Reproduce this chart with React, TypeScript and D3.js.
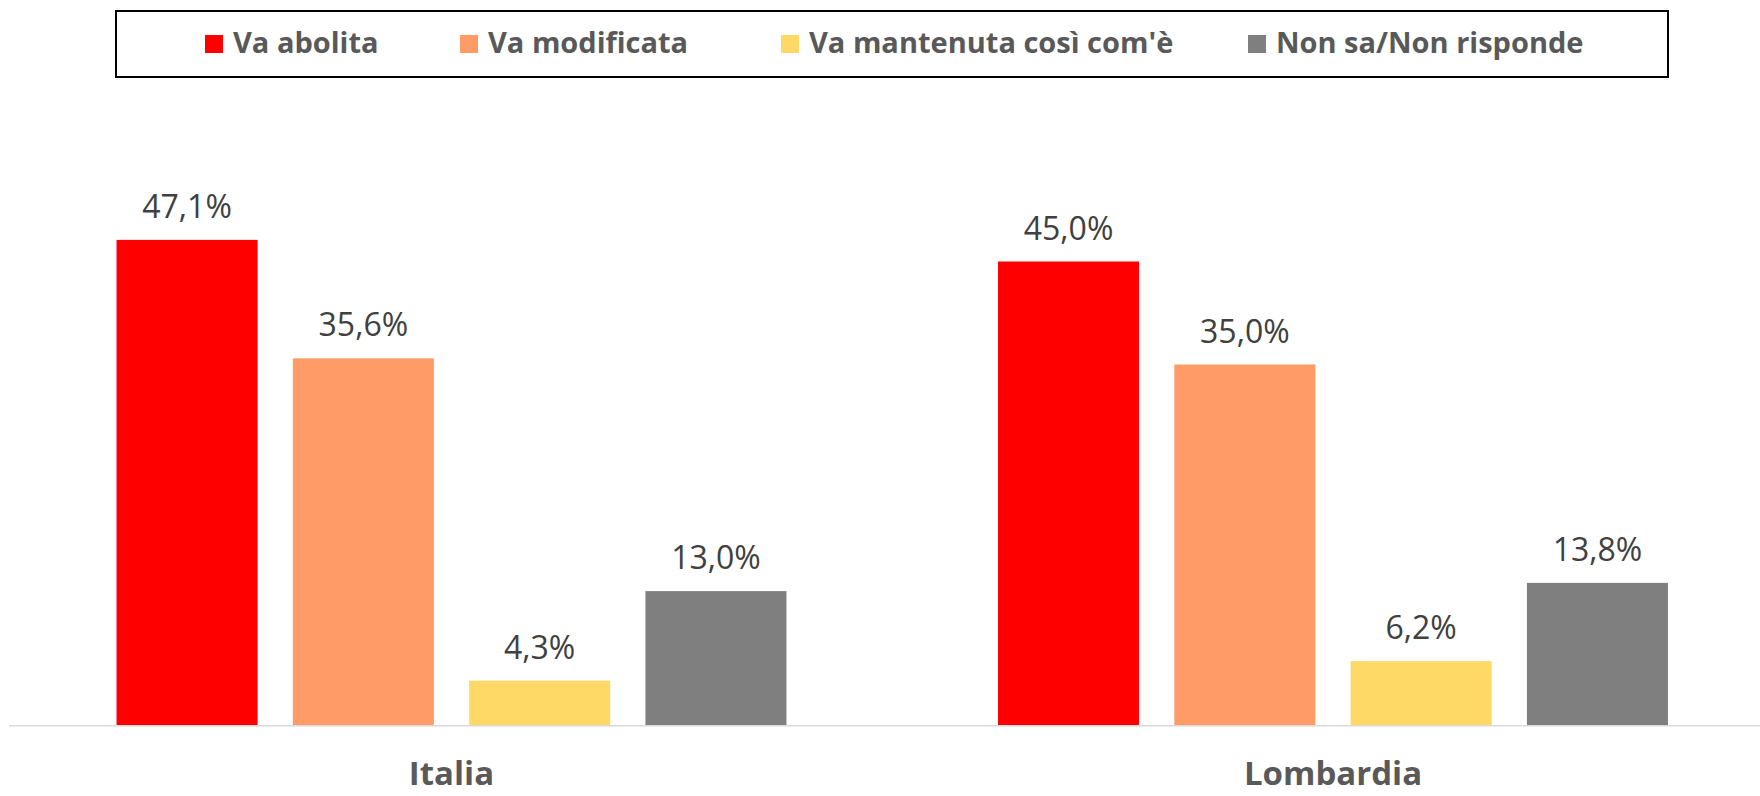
import React from 'react';
import * as d3 from 'd3';

const categories = ['Italia', 'Lombardia'];
const series = ['Va abolita', 'Va modificata', "Va mantenuta così com'è", 'Non sa/Non risponde'];
const colors = ['#FF0000', '#FF9B66', '#FFD966', '#7F7F7F'];
const valuesItalia = [47.1, 35.6, 4.3, 13.0];
const valuesLombardia = [45.0, 35.0, 6.2, 13.8];
const values = [valuesItalia, valuesLombardia];

// legend item x positions (square left edge)
const legendX = [205, 460, 781, 1248];

const W = 1760;
const H = 796;
const baseY = 725;

const fmt = (v: number) => v.toFixed(1).replace('.', ',') + '%';

export default function App() {
  const x0 = d3.scaleBand().domain(categories).range([10.75, 1773.75]).padding(0);
  const x1 = d3.scaleBand().domain(series).range([0, x0.bandwidth()]).paddingInner(0.2).paddingOuter(0.6);
  const y = d3.scaleLinear().domain([0, 50]).range([baseY, baseY - 515]);

  return (
    <div style={{ position: 'fixed', left: 0, top: 0 }}>
      <svg width={W} height={H} style={{ display: 'block', background: '#fff' }}>
        {/* legend */}
        <rect x={116} y={11} width={1552} height={66} fill="#fff" stroke="#000" strokeWidth={2} />
        {series.map((s, i) => (
          <g key={s}>
            <rect x={legendX[i]} y={35} width={18} height={18} fill={colors[i]} />
            <text
              x={legendX[i] + 28}
              y={53}
              fontFamily="'Open Sans', sans-serif"
              fontWeight="bold"
              fontSize={29}
              fill="#595959"
            >
              {s}
            </text>
          </g>
        ))}

        {/* bars */}
        {categories.map((c, ci) => (
          <g key={c} transform={`translate(${x0(c)},0)`}>
            {series.map((s, si) => {
              const v = values[ci][si];
              const bx = x1(s) as number;
              return (
                <g key={s}>
                  <rect x={bx} y={y(v)} width={x1.bandwidth()} height={baseY - y(v)} fill={colors[si]} />
                  <text
                    x={bx + x1.bandwidth() / 2}
                    y={y(v) - 22}
                    textAnchor="middle"
                    fontFamily="'Open Sans', sans-serif"
                    fontSize={32}
                    fill="#404040"
                  >
                    {fmt(v)}
                  </text>
                </g>
              );
            })}
            <text
              x={x0.bandwidth() / 2}
              y={785}
              textAnchor="middle"
              fontFamily="'Open Sans', sans-serif"
              fontWeight="bold"
              fontSize={33}
              fill="#595959"
            >
              {c}
            </text>
          </g>
        ))}

        {/* baseline */}
        <line x1={9} x2={W} y1={baseY + 0.75} y2={baseY + 0.75} stroke="#D9D9D9" strokeWidth={1.5} />
      </svg>
    </div>
  );
}
